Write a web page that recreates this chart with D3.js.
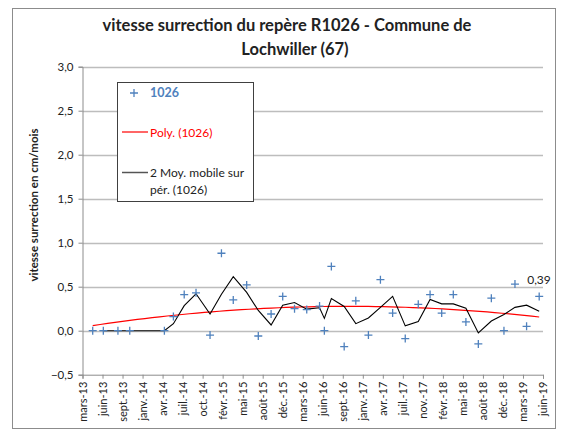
<!DOCTYPE html>
<html>
<head>
<meta charset="utf-8">
<script src="https://cdn.jsdelivr.net/npm/d3@7"></script>
<style>
  body { margin: 0; background: #fff; }
  svg { font-family: Lato, "Liberation Sans", sans-serif; }
</style>
</head>
<body>
<svg id="chart"></svg>
<script>
// survey dates and speeds (cm/mois) for benchmark R1026
var dates = ["2013-04-27","2013-06-19","2013-08-31","2013-10-29","2014-04-20","2014-06-04","2014-07-28",
  "2014-09-25","2014-12-04","2015-01-30","2015-03-30","2015-06-05","2015-08-02","2015-10-05","2015-12-02",
  "2016-01-30","2016-03-31","2016-06-03","2016-06-27","2016-08-01","2016-10-04","2016-12-01","2017-02-02",
  "2017-04-03","2017-06-03","2017-08-05","2017-10-09","2017-12-07","2018-02-03","2018-04-02","2018-06-04",
  "2018-08-05","2018-10-09","2018-12-11","2019-02-04","2019-04-03","2019-06-05"];
var speeds = [0.00,0.00,0.00,0.00,0.00,0.16,0.41,
  0.43,-0.05,0.88,0.35,0.52,-0.06,0.19,0.39,
  0.25,0.24,0.28,0.00,0.73,-0.18,0.34,-0.05,
  0.58,0.20,-0.09,0.30,0.41,0.20,0.41,0.10,
  -0.15,0.37,0.00,0.53,0.05,0.39];

// x tick labels (one every 100 days from 2013-03-07)
var tickLabels = ["mars-13","juin-13","sept.-13","janv.-14","avr.-14","juil.-14","oct.-14","févr.-15",
  "mai-15","août-15","déc.-15","mars-16","juin-16","sept.-16","janv.-17","avr.-17","juil.-17","nov.-17",
  "févr.-18","mai-18","août-18","déc.-18","mars-19","juin-19"];
var yTicks = [-0.5, 0, 0.5, 1, 1.5, 2, 2.5, 3];

var W = 561, H = 433;
var svg = d3.select('#chart').attr("width", W).attr("height", H);

var parse = d3.timeParse("%Y-%m-%d");
var data = dates.map(function(d, i) { return {date: parse(d), value: speeds[i]}; });

var axisStart = parse("2013-03-07");
var DAY = 86400000;
var tickDates = tickLabels.map(function(l, i) { return new Date(axisStart.getTime() + i * 100 * DAY); });

// plot area (window.top is reserved, so no "top" variable here)
var plotLeft = 82.5, plotRight = 543, plotTop = 66.7, plotBottom = 374.7;

var x = d3.scaleTime()
    .domain([tickDates[0], tickDates[tickDates.length - 1]])
    .range([plotLeft, plotRight]);
var y = d3.scaleLinear()
    .domain([-0.5, 3])
    .range([plotBottom, plotTop]);

// outer chart border
svg.append("rect")
    .attr("x", 12.5).attr("y", 8.5)
    .attr("width", 543).attr("height", 420)
    .attr("fill", "none").attr("stroke", "#8c8c8c");

// title
var title = svg.append("text")
    .attr("text-anchor", "middle")
    .attr("font-weight", "bold")
    .attr("font-size", "16.5px")
    .attr("fill", "#222");
title.append("tspan").attr("x", 287).attr("y", 31).text("vitesse surrection du repère R1026 - Commune de");
title.append("tspan").attr("x", 295).attr("y", 55).text("Lochwiller (67)");

// gridlines
svg.append("g").selectAll("line")
    .data(yTicks.filter(function(d) { return d > -0.5; }))
    .enter().append("line")
    .attr("x1", plotLeft).attr("x2", plotRight)
    .attr("y1", function(d) { return Math.round(y(d)) + 0.5; })
    .attr("y2", function(d) { return Math.round(y(d)) + 0.5; })
    .attr("stroke", "#bdbdbd").attr("stroke-width", 1.3);

// y axis
var yAxis = d3.axisLeft(y)
    .tickValues(yTicks)
    .tickSize(4)
    .tickFormat(function(d) { return d3.format(".1f")(d).replace(".", ","); });
var gy = svg.append("g")
    .attr("transform", "translate(" + plotLeft + ",0)")
    .call(yAxis);
gy.selectAll("path, line").attr("stroke", "#8c8c8c");
gy.selectAll("text").attr("font-size", "11.5px").attr("fill", "#222").attr("x", -9)
    .attr("font-family", "Lato, sans-serif");

// x axis
var xAxis = d3.axisBottom(x)
    .tickValues(tickDates)
    .tickSize(4)
    .tickFormat(function(d, i) { return tickLabels[i]; });
var gx = svg.append("g")
    .attr("transform", "translate(0," + plotBottom + ")")
    .call(xAxis);
gx.selectAll("path, line").attr("stroke", "#8c8c8c");
gx.selectAll("text")
    .attr("font-size", "11px").attr("fill", "#222")
    .attr("font-family", "Lato, sans-serif")
    .attr("text-anchor", "end")
    .attr("transform", "rotate(-90)")
    .attr("x", -7).attr("y", 0).attr("dy", "0.35em");

// y axis title
svg.append("text")
    .attr("transform", "translate(38,205) rotate(-90)")
    .attr("text-anchor", "middle")
    .attr("font-weight", "bold")
    .attr("font-size", "11.5px")
    .attr("fill", "#222")
    .text("vitesse surrection en cm/mois");

// polynomial (order 2) trendline, least squares on the data
var t0 = data[0].date.getTime();
function tx(d) { return (d.getTime() - t0) / (1000 * DAY); }
function polyFit(pts) {
    var s = [0, 0, 0, 0, 0], r = [0, 0, 0];
    pts.forEach(function(p) {
        var t = tx(p.date), tp = 1;
        for (var k = 0; k < 5; k++) { s[k] += tp; tp *= t; }
        r[0] += p.value; r[1] += p.value * t; r[2] += p.value * t * t;
    });
    var A = [[s[0], s[1], s[2], r[0]], [s[1], s[2], s[3], r[1]], [s[2], s[3], s[4], r[2]]];
    for (var i = 0; i < 3; i++) {
        for (var j = i + 1; j < 3; j++) {
            var f = A[j][i] / A[i][i];
            for (var k = i; k < 4; k++) A[j][k] -= f * A[i][k];
        }
    }
    var c = [0, 0, 0];
    for (var i = 2; i >= 0; i--) {
        var v = A[i][3];
        for (var k = i + 1; k < 3; k++) v -= A[i][k] * c[k];
        c[i] = v / A[i][i];
    }
    return c;
}
var coef = polyFit(data);
var first = data[0].date, last = data[data.length - 1].date;
var trend = d3.range(0, 61).map(function(i) {
    var d = new Date(first.getTime() + (last - first) * i / 60);
    var t = tx(d);
    return {date: d, value: coef[0] + coef[1] * t + coef[2] * t * t};
});

var line = d3.line()
    .x(function(d) { return x(d.date); })
    .y(function(d) { return y(d.value); });

svg.append("path")
    .datum(trend)
    .attr("fill", "none")
    .attr("stroke", "#ff0000")
    .attr("stroke-width", 1.2)
    .attr("d", line);

// 2-period moving average
var movAvg = data.slice(1).map(function(d, i) {
    return {date: d.date, value: (d.value + data[i].value) / 2};
});
svg.append("path")
    .datum(movAvg)
    .attr("fill", "none")
    .attr("stroke", "#000")
    .attr("stroke-width", 1.1)
    .attr("d", line);

// "+" markers
var plus = "M-4,0H4M0,-4V4";
svg.append("g").selectAll("path")
    .data(data)
    .enter().append("path")
    .attr("transform", function(d) { return "translate(" + x(d.date) + "," + y(d.value) + ")"; })
    .attr("d", plus)
    .attr("stroke", "#4f81bd")
    .attr("stroke-width", 1.3);

// label on last point
var lastPt = data[data.length - 1];
svg.append("text")
    .attr("x", x(lastPt.date) - 12)
    .attr("y", y(lastPt.value) - 12)
    .attr("font-size", "12px")
    .attr("fill", "#222")
    .text(d3.format(".2f")(lastPt.value).replace(".", ","));

// legend
var lg = svg.append("g");
lg.append("rect")
    .attr("x", 117.5).attr("y", 82.5)
    .attr("width", 136).attr("height", 119)
    .attr("fill", "#fff").attr("stroke", "#404040");
lg.append("path")
    .attr("transform", "translate(134,93)")
    .attr("d", plus)
    .attr("stroke", "#4f81bd").attr("stroke-width", 1.3);
lg.append("text")
    .attr("x", 150).attr("y", 97)
    .attr("font-size", "12.5px").attr("font-weight", "bold")
    .attr("fill", "#4f81bd")
    .text("1026");
lg.append("line")
    .attr("x1", 122).attr("x2", 148).attr("y1", 132).attr("y2", 132)
    .attr("stroke", "#ff0000").attr("stroke-width", 1.2);
lg.append("text")
    .attr("x", 150).attr("y", 136.5)
    .attr("font-size", "12px")
    .attr("fill", "#ff0000")
    .text("Poly. (1026)");
lg.append("line")
    .attr("x1", 122).attr("x2", 148).attr("y1", 172.5).attr("y2", 172.5)
    .attr("stroke", "#555").attr("stroke-width", 1.5);
var mt = lg.append("text")
    .attr("font-size", "12px")
    .attr("fill", "#222");
mt.append("tspan").attr("x", 150).attr("y", 177).text("2 Moy. mobile sur");
mt.append("tspan").attr("x", 150).attr("y", 194).text("pér. (1026)");
</script>
</body>
</html>
